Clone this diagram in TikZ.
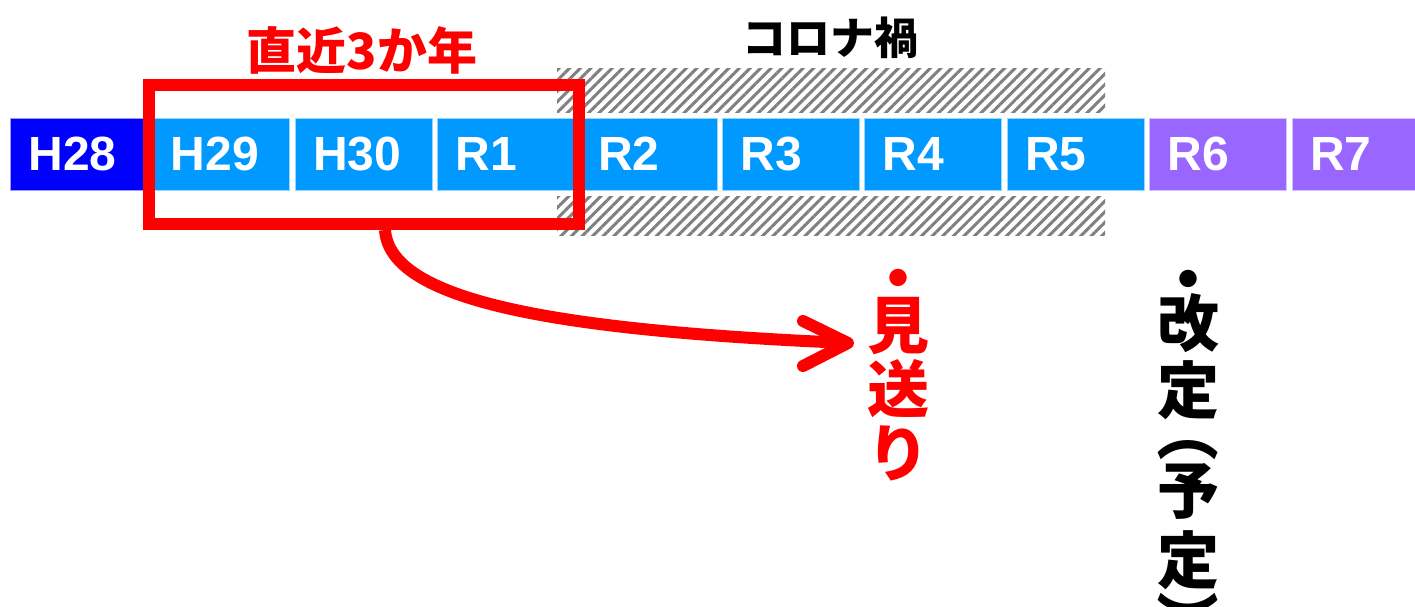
\documentclass[tikz,border=0pt]{standalone}
\usepackage{fontspec}
\setmainfont{Liberation Sans}
\newfontfamily\cjk{Noto Sans CJK JP}
\usetikzlibrary{patterns.meta}
\definecolor{yblue}{HTML}{0000FF}
\definecolor{ymid}{HTML}{0099FF}
\definecolor{ypurple}{HTML}{9966FF}
\definecolor{hatchgray}{HTML}{808080}
\begin{document}
\begin{tikzpicture}[x=1pt,y=-1pt,
  yr/.style={minimum height=72pt, text width=101pt, inner xsep=18pt, inner ysep=0pt,
    align=left, font=\bfseries\fontsize{48}{48}\selectfont, text=white, anchor=west},
  blueyr/.style={yr, fill=yblue, draw=yblue!40!white, line width=0.8pt},
  midyr/.style={yr, fill=ymid, draw=ymid!40!white, line width=0.8pt},
  purpyr/.style={yr, fill=ypurple, draw=ypurple!40!white, line width=0.8pt},
  hatch/.style={pattern={Lines[angle=45,distance=7.5pt,line width=3pt]}, pattern color=hatchgray},
  vtext/.style={align=center, anchor=north, inner sep=0pt, font=\cjk\bfseries\fontsize{62}{64}\selectfont},
  paren/.style={inner sep=0pt, rotate=-90, font=\cjk\bfseries\fontsize{62}{62}\selectfont},
  redline/.style={red, line width=12pt}]
\useasboundingbox (0,0) rectangle (1415,606);
\fill[white] (0,0) rectangle (1415,606);
% hatched corona period
\fill[hatch] (557,68) rectangle (1105,112);
\fill[hatch] (557,196) rectangle (1105,235);
% year boxes
\node[blueyr] (h28) at (10,154) {H28};
\node[midyr] (h29) at (152.4,154) {H29};
\node[midyr] (h30) at (294.8,154) {H30};
\node[midyr] (r1) at (437.2,154) {R1};
\node[midyr] (r2) at (579.6,154) {R2};
\node[midyr] (r3) at (722,154) {R3};
\node[midyr] (r4) at (864.4,154) {R4};
\node[midyr] (r5) at (1006.8,154) {R5};
\node[purpyr] (r6) at (1149.2,154) {R6};
\node[purpyr] (r7) at (1291.6,154) {R7};
% red frame
\node[draw=red, line width=12pt, minimum width=430pt, minimum height=139pt, inner sep=0pt] (frame) at (364,154.5) {};
% labels
\node[text=red, font=\cjk\bfseries\fontsize{50}{50}\selectfont] (recent) at (362,50) {直近3か年};
\node[font=\cjk\bfseries\fontsize{44}{44}\selectfont] (corona) at (830,38) {コロナ禍};
% arrow
\coordinate (tip) at (848,343);
\draw[redline, shorten >=6pt] ([xshift=21pt]frame.south) .. controls (390,300) and (550,330) .. (tip);
\draw[redline, line cap=round, line join=round] ([shift={(-45,-22)}]tip) -- (tip) -- ([shift={(-45,23)}]tip);
% vertical texts
\node[vtext, text=red] (miokuri) at (898,269) {・\\[-17pt]見\\送\\り};
\node[vtext, font=\cjk\bfseries\fontsize{62}{67}\selectfont] (kaitei) at (1188,270) {・\\[-23pt]改\\定};
\node[paren] (lparen) at (1188,431) {（};
\node[vtext, font=\cjk\bfseries\fontsize{62}{70}\selectfont] (yotei) at (1188,463) {予\\定};
\node[paren] (rparen) at (1188,621) {）};
\end{tikzpicture}
\end{document}
